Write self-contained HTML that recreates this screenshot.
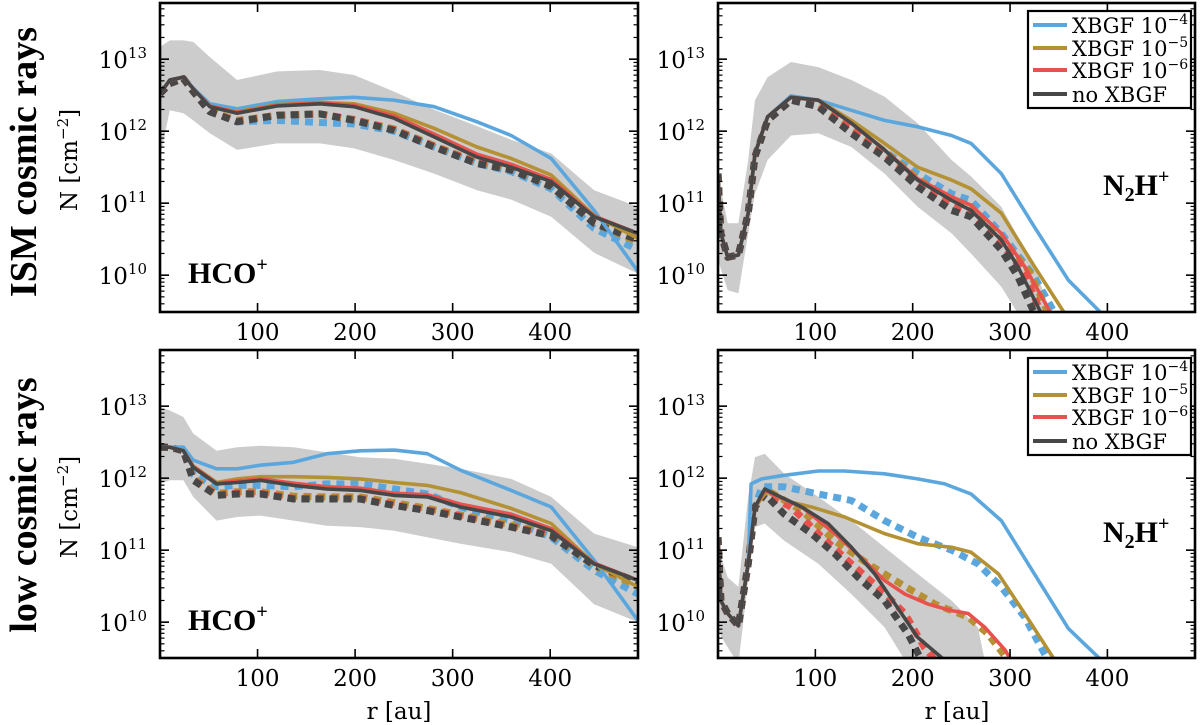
<!DOCTYPE html>
<html><head><meta charset="utf-8"><title>N2H+ and HCO+ column densities</title>
<style>
html,body{margin:0;padding:0;background:#fff;}
svg{display:block;}
.tk{font-family:"DejaVu Serif","Liberation Serif",serif;font-size:23px;fill:#000;}
.sup{font-size:15px;}
.row{font-family:"Liberation Serif","DejaVu Serif",serif;font-weight:bold;font-size:38px;fill:#000;}
.mol{font-family:"Liberation Serif","DejaVu Serif",serif;font-weight:bold;font-size:30px;fill:#000;}
.leg{font-family:"DejaVu Serif","Liberation Serif",serif;font-size:21px;fill:#000;}
</style></head>
<body>
<svg id="fig" width="1200" height="725" viewBox="0 0 1200 725" xmlns="http://www.w3.org/2000/svg">
<defs>
<clipPath id="c0"><rect x="160" y="3" width="478" height="309"/></clipPath>
<clipPath id="c1"><rect x="718" y="3" width="477" height="309"/></clipPath>
<clipPath id="c2"><rect x="160" y="350" width="478" height="308"/></clipPath>
<clipPath id="c3"><rect x="718" y="350" width="477" height="308"/></clipPath>
</defs>
<g id="layer"></g>
<text class="row" transform="translate(36,162) rotate(-90)" text-anchor="middle">ISM cosmic rays</text>
<text class="row" transform="translate(36,505) rotate(-90)" text-anchor="middle">low cosmic rays</text>
<text class="tk" transform="translate(77,160) rotate(-90)" text-anchor="middle">N [cm<tspan class="sup" dy="-9">−2</tspan><tspan dy="9">]</tspan></text>
<text class="tk" transform="translate(77,507) rotate(-90)" text-anchor="middle">N [cm<tspan class="sup" dy="-9">−2</tspan><tspan dy="9">]</tspan></text>
<text class="tk" x="399" y="719" text-anchor="middle">r [au]</text>
<text class="tk" x="957" y="719" text-anchor="middle">r [au]</text>
<text class="mol" x="188" y="283">HCO<tspan font-size="20" dy="-12">+</tspan></text>
<text class="mol" x="188" y="630">HCO<tspan font-size="20" dy="-12">+</tspan></text>
<text class="mol" x="1103" y="195">N<tspan font-size="20" dy="6">2</tspan><tspan dy="-6">H</tspan><tspan font-size="20" dy="-12">+</tspan></text>
<text class="mol" x="1103" y="542">N<tspan font-size="20" dy="6">2</tspan><tspan dy="-6">H</tspan><tspan font-size="20" dy="-12">+</tspan></text>
</svg>
<script>
// ---- data: r [au] and log10 N [cm^-2] ----
// Top-left: HCO+, ISM cosmic rays
const tlR = [0,10,24,34,51,79,120,164,199,240,281,325,360,401,445,490];
const tlNoX = [12.52,12.71,12.75,12.59,12.34,12.25,12.35,12.38,12.34,12.18,11.92,11.64,11.50,11.30,10.81,10.58];
const tlX6 = [12.52,12.71,12.75,12.59,12.35,12.26,12.36,12.39,12.36,12.21,11.96,11.68,11.54,11.33,10.82,10.58];
const tlX5 = [12.52,12.71,12.75,12.59,12.35,12.27,12.37,12.40,12.38,12.25,12.04,11.78,11.62,11.39,10.83,10.51];
const tlX4 = [12.52,12.71,12.75,12.60,12.38,12.31,12.41,12.45,12.47,12.43,12.34,12.13,11.94,11.62,10.90,10.05];
const tlNoXd = [12.52,12.66,12.73,12.55,12.27,12.13,12.22,12.24,12.15,12.01,11.78,11.55,11.46,11.23,10.72,10.49];
const tlX6d = [12.52,12.66,12.73,12.55,12.27,12.14,12.22,12.24,12.16,12.02,11.79,11.56,11.47,11.24,10.73,10.50];
const tlX5d = [12.52,12.66,12.73,12.55,12.28,12.15,12.22,12.24,12.16,12.03,11.80,11.57,11.48,11.25,10.72,10.46];
const tlX4d = [12.52,12.66,12.73,12.55,12.27,12.13,12.15,12.12,12.10,12.00,11.78,11.55,11.44,11.20,10.65,10.35];
const tlBandHi = [13.17,13.26,13.26,13.24,13.03,12.71,12.83,12.85,12.78,12.55,12.30,12.07,11.88,11.69,11.18,10.95];
const tlBandLo = [11.64,12.29,12.25,12.15,11.97,11.74,11.83,11.83,11.76,11.60,11.41,11.18,11.05,10.81,10.31,10.02];

// Top-right: N2H+, ISM cosmic rays
const trNoXR = [0,3,10,21,31,38,51,75,103,137,171,205,240,260,291,308,332];
const trNoX = [11.41,10.58,10.25,10.28,10.86,11.69,12.20,12.47,12.43,12.11,11.74,11.32,11.04,10.90,10.49,10.12,9.47];
const trX6R = [0,3,10,21,31,38,51,75,103,137,171,205,240,260,291,315,342];
const trX6 = [11.41,10.58,10.25,10.28,10.86,11.69,12.20,12.47,12.43,12.11,11.74,11.34,11.09,10.97,10.58,10.12,9.47];
const trX5R = [0,3,10,21,31,38,51,75,103,137,171,205,240,260,291,325,356];
const trX5 = [11.41,10.58,10.25,10.28,10.86,11.69,12.20,12.47,12.43,12.15,11.83,11.50,11.32,11.20,10.86,10.12,9.47];
const trX4R = [0,3,10,21,31,38,51,75,103,137,171,205,240,260,291,325,360,394];
const trX4 = [11.41,10.58,10.25,10.28,10.86,11.69,12.20,12.49,12.43,12.29,12.15,12.06,11.94,11.83,11.41,10.67,9.93,9.47];
const trNoXdR = [0,3,10,21,31,38,51,75,103,137,171,205,240,260,291,308,325];
const trNoXd = [11.41,10.58,10.25,10.28,10.86,11.65,12.15,12.43,12.34,11.97,11.64,11.23,10.90,10.81,10.35,9.98,9.47];
const trX6dR = [0,3,10,21,31,38,51,75,103,137,171,205,240,260,291,315,332];
const trX6d = [11.41,10.58,10.25,10.28,10.86,11.65,12.15,12.43,12.36,12.02,11.68,11.28,10.97,10.86,10.45,10.02,9.47];
const trX5dR = [0,3,10,21,31,38,51,75,103,137,171,205,240,260,291,320,339];
const trX5d = [11.41,10.58,10.25,10.28,10.86,11.65,12.15,12.43,12.38,12.06,11.72,11.34,11.04,10.95,10.52,10.05,9.47];
const trX4dR = [0,3,10,21,31,38,51,75,103,137,171,205,240,260,291,325,346];
const trX4d = [11.41,10.58,10.25,10.28,10.86,11.65,12.15,12.43,12.36,12.04,11.72,11.41,11.13,11.04,10.58,9.98,9.47];
const trBandR = [0,10,21,31,38,51,75,103,137,171,205,240,260,291,325,342];
const trBandHi = [11.41,10.72,10.72,11.60,12.43,12.75,12.96,12.89,12.71,12.48,12.11,11.60,11.37,10.95,10.12,9.47];
const trBandLoR = [0,10,21,31,38,51,75,103,137,171,205,240,260,291,308];
const trBandLo = [10.21,9.79,9.75,10.58,11.13,11.60,11.94,11.97,11.78,11.41,10.95,10.58,10.30,9.84,9.47];

// Bottom-left: HCO+, low cosmic rays
const blR = [0,10,24,34,58,79,103,137,171,205,240,274,308,360,401,445,490];
const blNoX = [12.43,12.43,12.38,12.15,11.92,11.94,11.97,11.90,11.85,11.83,11.76,11.74,11.60,11.46,11.27,10.81,10.58];
const blX6 = [12.43,12.43,12.38,12.16,11.93,11.96,11.99,11.93,11.88,11.86,11.79,11.77,11.64,11.50,11.30,10.82,10.58];
const blX5 = [12.43,12.43,12.38,12.17,11.94,11.99,12.02,12.02,12.01,11.99,11.94,11.90,11.80,11.58,11.37,10.81,10.49];
const blX4 = [12.43,12.43,12.43,12.25,12.13,12.13,12.18,12.22,12.34,12.38,12.39,12.34,12.11,11.83,11.60,10.86,10.02];
const blNoXd = [12.43,12.43,12.38,11.97,11.76,11.78,11.78,11.71,11.71,11.71,11.62,11.55,11.46,11.32,11.20,10.79,10.56];
const blX6d = [12.43,12.43,12.38,11.98,11.77,11.79,11.79,11.72,11.72,11.72,11.63,11.56,11.47,11.33,11.21,10.79,10.55];
const blX5d = [12.43,12.43,12.38,12.00,11.79,11.81,11.81,11.75,11.74,11.74,11.66,11.58,11.49,11.35,11.22,10.78,10.50];
const blX4d = [12.43,12.43,12.38,12.05,11.88,11.90,11.90,11.88,11.92,11.92,11.85,11.78,11.60,11.41,11.18,10.72,10.39];
const blBandHi = [12.99,12.94,12.85,12.62,12.38,12.43,12.45,12.43,12.36,12.29,12.27,12.20,12.13,11.99,11.74,11.23,11.04];
const blBandLo = [11.92,11.97,11.97,11.74,11.41,11.46,11.48,11.41,11.34,11.32,11.27,11.18,11.09,10.97,10.81,10.25,10.00];

// Bottom-right: N2H+, low cosmic rays
const brNoXR = [0,3,10,21,31,38,48,58,86,113,137,161,182,205,233];
const brNoX = [11.18,10.30,10.12,9.95,10.81,11.60,11.85,11.78,11.60,11.37,11.04,10.67,10.25,9.79,9.47];
const brX6R = [0,3,10,21,31,38,48,86,120,147,171,192,216,240,257,274,295,301];
const brX6 = [11.18,10.30,10.12,9.95,10.81,11.60,11.83,11.60,11.23,10.90,10.58,10.39,10.25,10.16,10.12,9.93,9.61,9.47];
const brX5R = [0,3,10,21,31,38,51,68,96,130,171,205,240,260,288,315,346];
const brX5 = [11.18,10.30,10.12,9.95,10.81,11.60,11.83,11.69,11.60,11.46,11.23,11.09,11.04,10.97,10.67,10.12,9.47];
const brX4R = [0,3,10,21,31,34,45,68,103,130,171,205,233,260,291,325,360,394];
const brX4 = [11.18,10.30,10.12,9.95,10.81,11.92,11.99,12.04,12.10,12.10,12.06,11.99,11.92,11.78,11.41,10.67,9.91,9.47];
const brNoXdR = [0,3,10,21,31,38,48,68,96,120,144,171,195,209];
const brNoXd = [11.18,10.30,10.12,9.95,10.81,11.60,11.78,11.50,11.23,10.95,10.62,10.30,9.84,9.47];
const brX6dR = [0,3,10,21,31,38,48,75,103,137,164,192,212,223];
const brX6d = [11.18,10.30,10.12,9.95,10.81,11.60,11.78,11.60,11.23,10.81,10.49,10.12,9.65,9.47];
const brX5dR = [0,3,10,21,31,38,51,86,120,154,188,223,257,277,298];
const brX5d = [11.18,10.30,10.12,9.95,10.81,11.60,11.83,11.55,11.13,10.81,10.53,10.25,10.07,9.84,9.47];
const brX4dR = [0,3,10,21,31,38,45,68,103,137,171,205,240,267,291,315,339];
const brX4d = [11.18,10.30,10.12,9.95,10.81,11.60,11.88,11.88,11.78,11.69,11.41,11.18,11.00,10.81,10.49,10.07,9.47];
const brBandR = [0,10,21,31,38,48,68,103,137,171,205,240,267,274];
const brBandHi = [11.04,10.62,10.49,11.74,12.29,12.34,12.06,11.74,11.41,11.04,10.67,10.30,9.93,9.47];
const brBandLoR = [0,10,21,31,38,48,68,103,137,171,192];
const brBandLo = [9.88,9.65,9.42,10.58,11.32,11.37,11.13,10.81,10.39,9.93,9.47];

const xTicks = [100,200,300,400];
const yTickExp = [10,11,12,13];
const legendLabels = ['XBGF 10', 'XBGF 10', 'XBGF 10', 'no XBGF'];
const legendExps = ['−4','−5','−6',''];

// ---- rendering ----
const NS = 'http://www.w3.org/2000/svg';
const svg = document.getElementById('fig');
const layer = document.getElementById('layer');
const C4 = '#5ba7dd', C5 = '#b39134', C6 = '#e9524c', C0 = '#474747';
const XMAX = 490, LTOP = 13.78;
const panels = [
  {x0:160, y0:3, w:478, h:309, clip:'c0', name:'panel-hco-ism'},
  {x0:718, y0:3, w:477, h:309, clip:'c1', name:'panel-n2h-ism'},
  {x0:160, y0:350, w:478, h:308, clip:'c2', name:'panel-hco-low'},
  {x0:718, y0:350, w:477, h:308, clip:'c3', name:'panel-n2h-low'}
];
function sx(p, r){ return p.x0 + r * p.w / XMAX; }
function sy(p, l){ return p.y0 + (LTOP - l) * 72; }
function pathD(p, rs, ns){
  let d = '';
  for (let i = 0; i < rs.length; i++) d += (i ? 'L' : 'M') + sx(p, rs[i]).toFixed(1) + ',' + sy(p, ns[i]).toFixed(1);
  return d;
}
function line(p, g, rs, ns, color, dashed, name){
  const el = document.createElementNS(NS, 'path');
  el.setAttribute('d', pathD(p, rs, ns));
  el.setAttribute('fill', 'none');
  el.setAttribute('stroke', color);
  el.setAttribute('stroke-width', dashed ? 7 : 3.6);
  if (dashed) el.setAttribute('stroke-dasharray', '8,6');
  el.setAttribute('stroke-linejoin', 'round');
  
  
  g.appendChild(el);
}
function band(p, g, rHi, hi, rLo, lo, name){
  let d = pathD(p, rHi, hi);
  for (let i = rLo.length - 1; i >= 0; i--) d += 'L' + sx(p, rLo[i]).toFixed(1) + ',' + sy(p, lo[i]).toFixed(1);
  d += 'Z';
  const el = document.createElementNS(NS, 'path');
  el.setAttribute('d', d);
  el.setAttribute('fill', '#cccccc');
  
  
  g.appendChild(el);
}
function seg(g, x1, y1, x2, y2, w){
  const el = document.createElementNS(NS, 'line');
  el.setAttribute('x1', x1); el.setAttribute('y1', y1);
  el.setAttribute('x2', x2); el.setAttribute('y2', y2);
  el.setAttribute('stroke', '#000'); el.setAttribute('stroke-width', w);
  
  
  g.appendChild(el);
}
function text(g, x, y, anchor, main, sup, name){
  const t = document.createElementNS(NS, 'text');
  t.setAttribute('x', x); t.setAttribute('y', y);
  t.setAttribute('class', 'tk');
  t.setAttribute('text-anchor', anchor);
  
  
  t.textContent = main;
  if (sup) {
    const s = document.createElementNS(NS, 'tspan');
    s.setAttribute('class', 'sup'); s.setAttribute('dy', '-10');
    s.textContent = sup;
    t.appendChild(s);
  }
  g.appendChild(t);
}
function dataG(p){
  const g = document.createElementNS(NS, 'g');
  g.setAttribute('clip-path', 'url(#' + p.clip + ')');
  
  
  layer.appendChild(g);
  return g;
}
function axes(p, showX){
  const g = document.createElementNS(NS, 'g');
  
  
  layer.appendChild(g);
  const x1 = p.x0 + p.w, y1 = p.y0 + p.h;
  // y ticks (log)
  for (let e = 9; e <= 13; e++) {
    for (let m = 1; m <= 9; m++) {
      const l = e + Math.log10(m);
      const y = sy(p, l);
      if (y < p.y0 || y > y1) continue;
      const len = m === 1 ? 9 : 4.5;
      seg(g, p.x0, y, p.x0 + len, y, m === 1 ? 1.6 : 1.2);
      seg(g, x1, y, x1 - len, y, m === 1 ? 1.6 : 1.2);
    }
  }
  yTickExp.forEach(function(e){
    text(g, p.x0 - 13, sy(p, e) + 9, 'end', '10', String(e), 'y-tick-label');
  });
  xTicks.forEach(function(r){
    const x = sx(p, r);
    seg(g, x, p.y0, x, p.y0 + 9, 1.6);
    seg(g, x, y1, x, y1 - 9, 1.6);
    if (showX) text(g, x, y1 + 28, 'middle', String(r), '', 'x-tick-label');
  });
  const fr = document.createElementNS(NS, 'rect');
  fr.setAttribute('x', p.x0); fr.setAttribute('y', p.y0);
  fr.setAttribute('width', p.w); fr.setAttribute('height', p.h);
  fr.setAttribute('fill', 'none'); fr.setAttribute('stroke', '#000'); fr.setAttribute('stroke-width', 2.6);
  
  
  g.appendChild(fr);
}
function legend(lx, ly){
  const g = document.createElementNS(NS, 'g');
  
  
  layer.appendChild(g);
  const bx = document.createElementNS(NS, 'rect');
  bx.setAttribute('x', lx); bx.setAttribute('y', ly);
  bx.setAttribute('width', 163); bx.setAttribute('height', 97);
  bx.setAttribute('fill', '#fff'); bx.setAttribute('stroke', '#000'); bx.setAttribute('stroke-width', 2.2);
  
  
  g.appendChild(bx);
  const cols = [C4, C5, C6, C0];
  const rows = [14, 37, 59, 83];
  for (let i = 0; i < 4; i++) {
    const ln = document.createElementNS(NS, 'line');
    ln.setAttribute('x1', lx + 5); ln.setAttribute('x2', lx + 39);
    ln.setAttribute('y1', ly + rows[i]); ln.setAttribute('y2', ly + rows[i]);
    ln.setAttribute('stroke', cols[i]); ln.setAttribute('stroke-width', 4);
    
    
    g.appendChild(ln);
    const t = document.createElementNS(NS, 'text');
    t.setAttribute('x', lx + 44); t.setAttribute('y', ly + rows[i] + 8);
    t.setAttribute('class', 'leg');
    
    
    t.textContent = legendLabels[i];
    if (legendExps[i]) {
      const s = document.createElementNS(NS, 'tspan');
      s.setAttribute('font-size', '14'); s.setAttribute('dy', '-9');
      s.textContent = legendExps[i];
      t.appendChild(s);
    }
    g.appendChild(t);
  }
}

// panel 0
(function(){
  const p = panels[0], g = dataG(p);
  band(p, g, tlR, tlBandHi, tlR, tlBandLo, 'uncertainty-band');
  line(p, g, tlR, tlX4d, C4, true, 'xbgf-1e-4-dashed');
  line(p, g, tlR, tlX5d, C5, true, 'xbgf-1e-5-dashed');
  line(p, g, tlR, tlX6d, C6, true, 'xbgf-1e-6-dashed');
  line(p, g, tlR, tlNoXd, C0, true, 'no-xbgf-dashed');
  line(p, g, tlR, tlX4, C4, false, 'xbgf-1e-4-line');
  line(p, g, tlR, tlX5, C5, false, 'xbgf-1e-5-line');
  line(p, g, tlR, tlX6, C6, false, 'xbgf-1e-6-line');
  line(p, g, tlR, tlNoX, C0, false, 'no-xbgf-line');
  axes(p, true);
})();
// panel 1
(function(){
  const p = panels[1], g = dataG(p);
  band(p, g, trBandR, trBandHi, trBandLoR, trBandLo, 'uncertainty-band');
  line(p, g, trX4dR, trX4d, C4, true, 'xbgf-1e-4-dashed');
  line(p, g, trX5dR, trX5d, C5, true, 'xbgf-1e-5-dashed');
  line(p, g, trX6dR, trX6d, C6, true, 'xbgf-1e-6-dashed');
  line(p, g, trNoXdR, trNoXd, C0, true, 'no-xbgf-dashed');
  line(p, g, trX4R, trX4, C4, false, 'xbgf-1e-4-line');
  line(p, g, trX5R, trX5, C5, false, 'xbgf-1e-5-line');
  line(p, g, trX6R, trX6, C6, false, 'xbgf-1e-6-line');
  line(p, g, trNoXR, trNoX, C0, false, 'no-xbgf-line');
  axes(p, true);
  legend(1028, 11);
})();
// panel 2
(function(){
  const p = panels[2], g = dataG(p);
  band(p, g, blR, blBandHi, blR, blBandLo, 'uncertainty-band');
  line(p, g, blR, blX4d, C4, true, 'xbgf-1e-4-dashed');
  line(p, g, blR, blX5d, C5, true, 'xbgf-1e-5-dashed');
  line(p, g, blR, blX6d, C6, true, 'xbgf-1e-6-dashed');
  line(p, g, blR, blNoXd, C0, true, 'no-xbgf-dashed');
  line(p, g, blR, blX4, C4, false, 'xbgf-1e-4-line');
  line(p, g, blR, blX5, C5, false, 'xbgf-1e-5-line');
  line(p, g, blR, blX6, C6, false, 'xbgf-1e-6-line');
  line(p, g, blR, blNoX, C0, false, 'no-xbgf-line');
  axes(p, true);
})();
// panel 3
(function(){
  const p = panels[3], g = dataG(p);
  band(p, g, brBandR, brBandHi, brBandLoR, brBandLo, 'uncertainty-band');
  line(p, g, brX4dR, brX4d, C4, true, 'xbgf-1e-4-dashed');
  line(p, g, brX5dR, brX5d, C5, true, 'xbgf-1e-5-dashed');
  line(p, g, brX6dR, brX6d, C6, true, 'xbgf-1e-6-dashed');
  line(p, g, brNoXdR, brNoXd, C0, true, 'no-xbgf-dashed');
  line(p, g, brX4R, brX4, C4, false, 'xbgf-1e-4-line');
  line(p, g, brX5R, brX5, C5, false, 'xbgf-1e-5-line');
  line(p, g, brX6R, brX6, C6, false, 'xbgf-1e-6-line');
  line(p, g, brNoXR, brNoX, C0, false, 'no-xbgf-line');
  axes(p, true);
  legend(1028, 358);
})();
</script>
</body></html>
